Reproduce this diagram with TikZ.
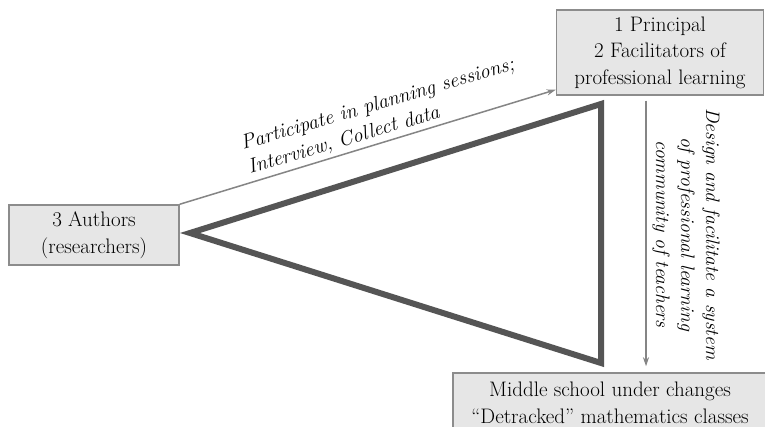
\documentclass[tikz,border=0pt]{standalone}
\usetikzlibrary{arrows.meta}
\definecolor{boxfill}{HTML}{E6E6E6}
\definecolor{boxline}{HTML}{8C8C8C}
\definecolor{tri}{HTML}{555555}
\definecolor{arr}{HTML}{858585}
\definecolor{ink}{HTML}{000000}
\tikzset{
  actor/.style={draw=boxline, line width=1.5pt, fill=boxfill, rectangle,
    align=center, text=ink, inner sep=0pt,
    font=\fontsize{21}{26.5}\selectfont},
  flow/.style={draw=arr, line width=1.5pt, -{Stealth[length=9pt,width=6pt]}},
  role/.style={text=ink, inner sep=0pt, font=\fontsize{19.5}{25}\selectfont\itshape},
}
\begin{document}
\begin{tikzpicture}[x=1pt, y=-1pt]
  \useasboundingbox (0,0) rectangle (765,427);
  \fill[white] (0,0) rectangle (765,427);

  % the three parties
  \node[actor, minimum width=170pt, minimum height=60pt] (authors) at (94,235)
    {3 Authors\\(researchers)};
  \node[actor, minimum width=207pt, minimum height=85pt] (principal) at (660,52.5)
    {1 Principal\\2 Facilitators of\\professional learning};
  \node[actor, minimum width=314pt, minimum height=60pt] (school) at (610,403)
    {Middle school under changes\\``Detracked'' mathematics classes};

  % triangle joining the three parties
  \draw[tri, line width=6pt, line join=miter]
    (190,233) -- (601,104) -- (601,363) -- cycle;

  % relations
  \draw[flow] (authors.north east) -- ([yshift=6pt]principal.south west);
  \draw[flow] ([xshift=-14pt,yshift=-5pt]principal.south) -- ([xshift=36pt,yshift=6pt]school.north);

  \node[role, font=\fontsize{20.4}{25}\selectfont\itshape, rotate=16.5, align=left, anchor=base west] (rel1) at (250,174)
    {Participate in planning sessions;\\Interview, Collect data};
  \node[role, rotate=-90, align=center] (rel2) at (686,234)
    {Design and facilitate a system\\of professional learning\\community of teachers};
\end{tikzpicture}
\end{document}
